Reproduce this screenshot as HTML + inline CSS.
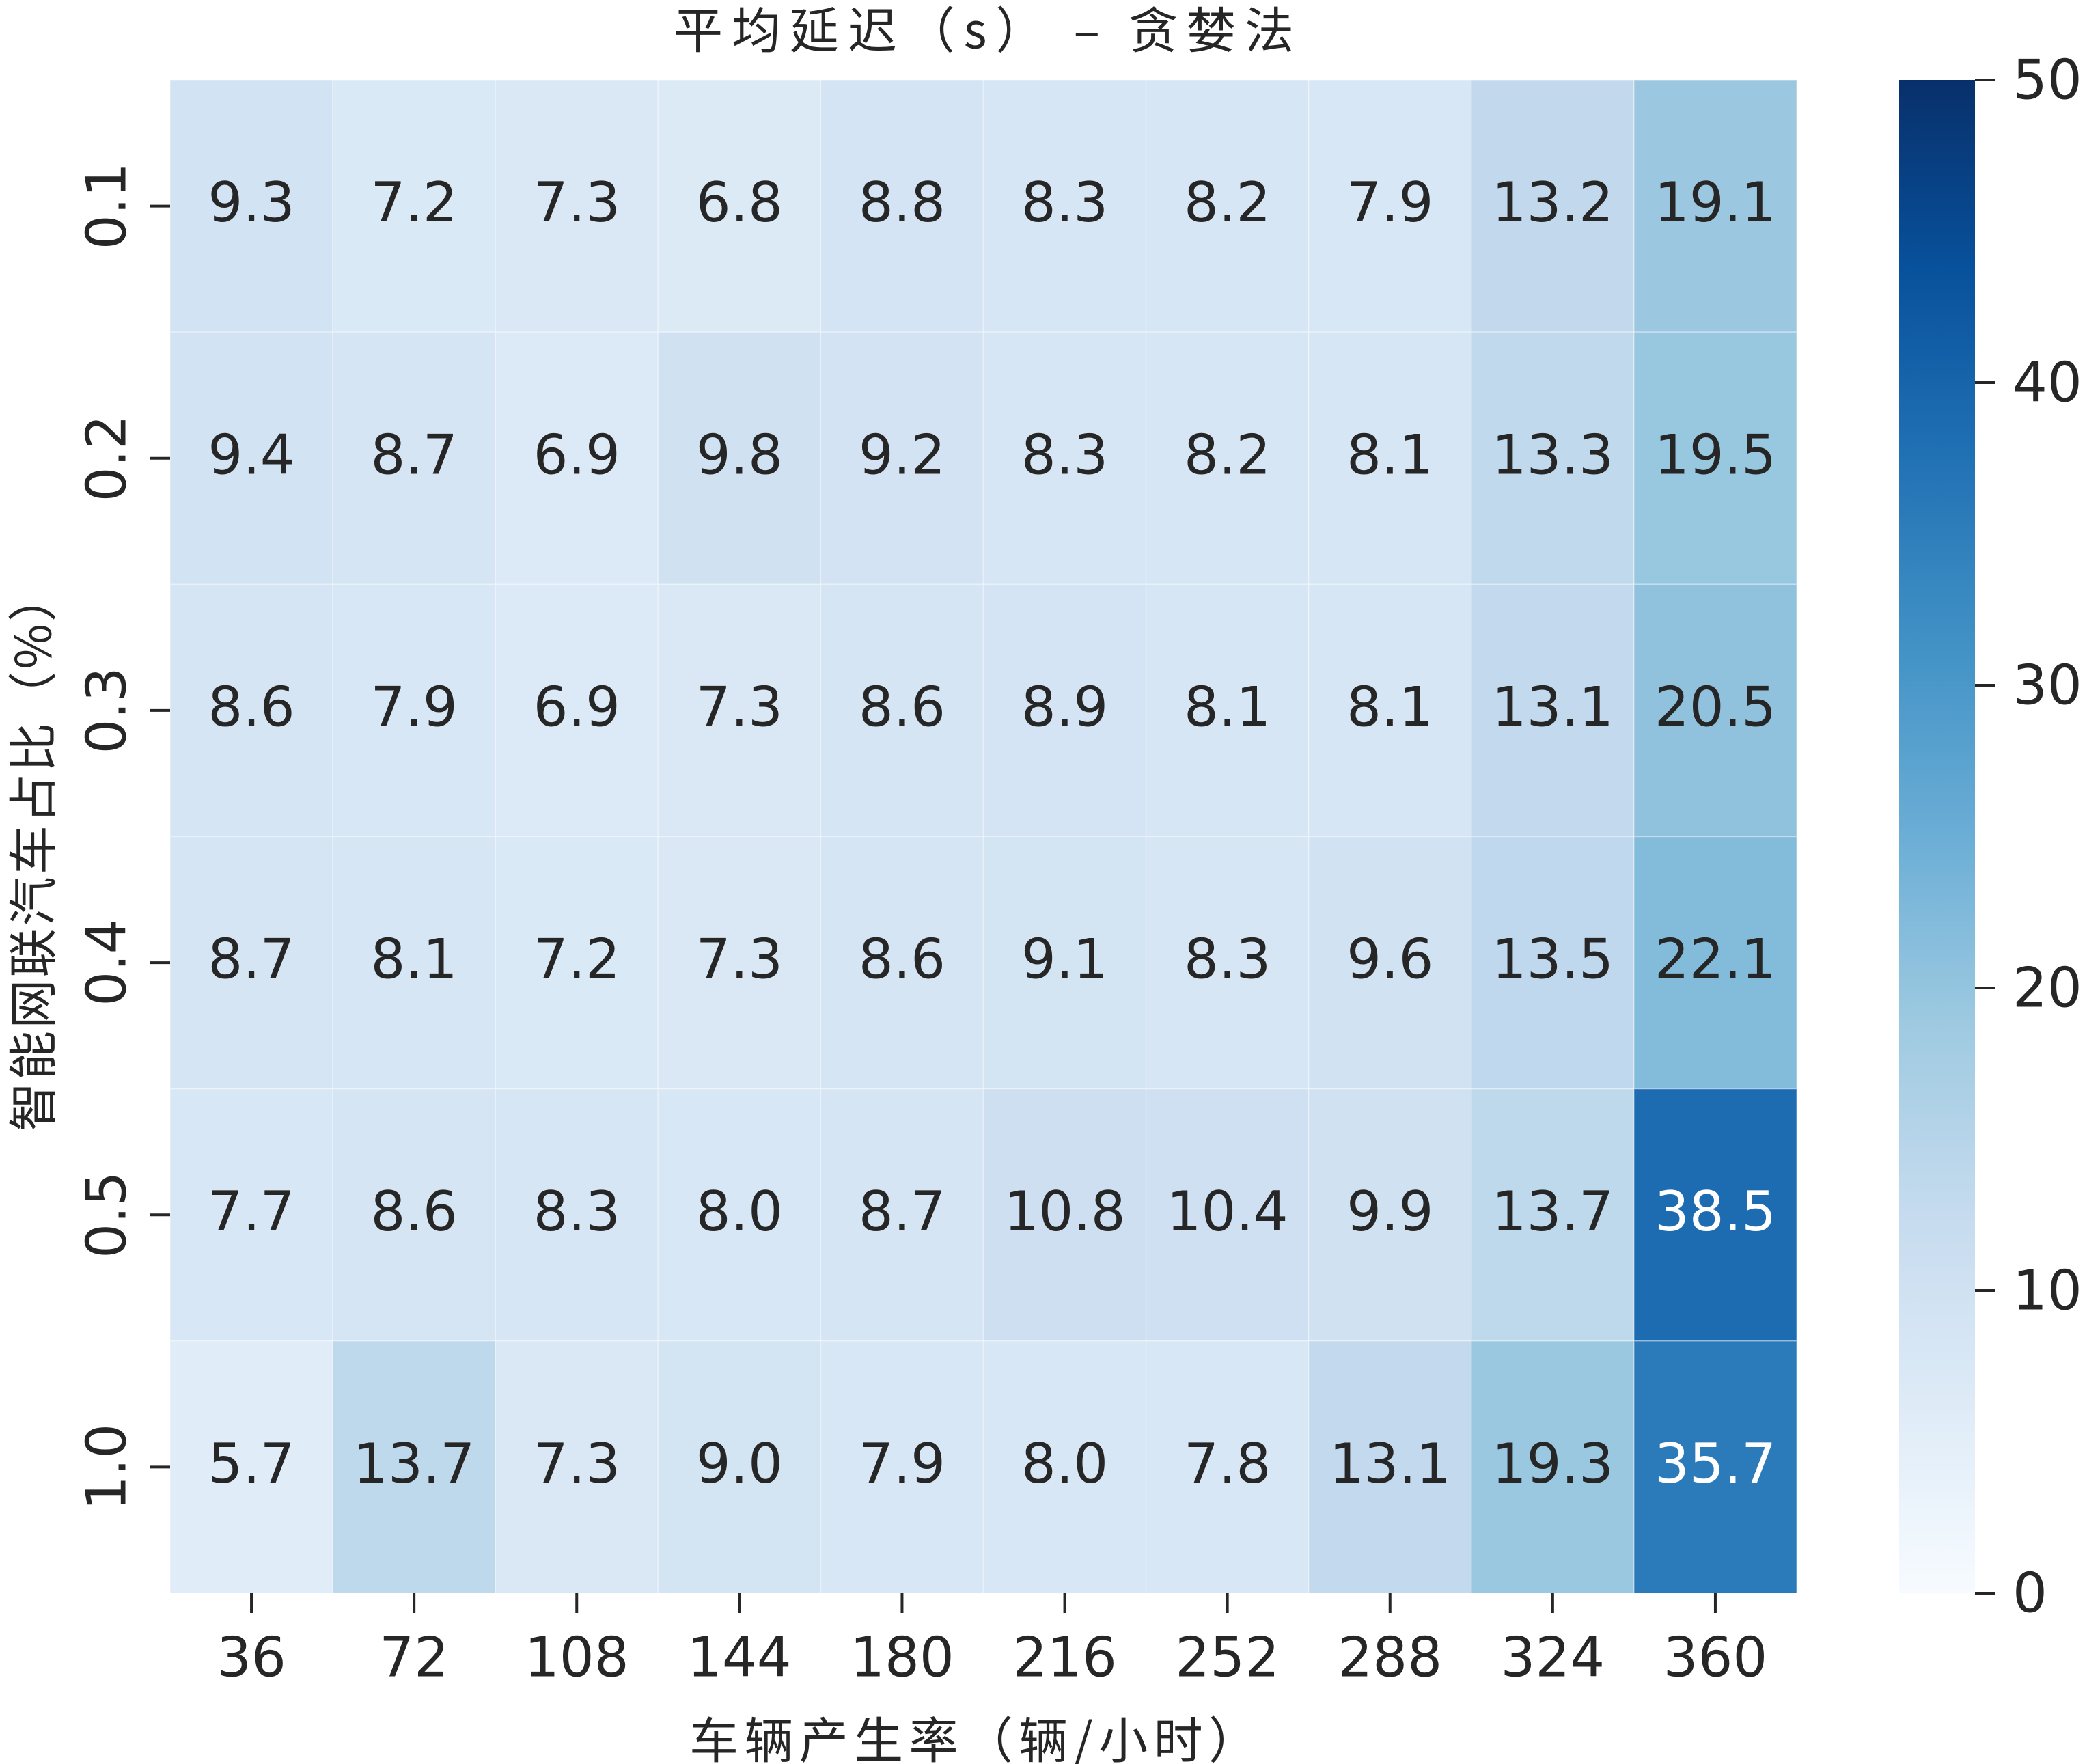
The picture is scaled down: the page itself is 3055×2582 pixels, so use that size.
<!DOCTYPE html>
<html><head><meta charset="utf-8"><style>
html,body{margin:0;padding:0;background:#fff;}
svg{display:block;font-family:"DejaVu Sans","Liberation Sans","Noto Sans CJK SC",sans-serif;}
</style></head><body>
<svg id="chart" width="3055" height="2582" viewBox="0 0 3055 2582" xmlns="http://www.w3.org/2000/svg">
<text x="1440" y="39" font-size="72" text-anchor="middle" dominant-baseline="central" fill="#262626" font-family="'Noto Sans CJK SC',sans-serif" textLength="908" lengthAdjust="spacing">平均延迟（s） – 贪婪法</text>
<text x="1425" y="2542" font-size="72" text-anchor="middle" dominant-baseline="central" fill="#262626" font-family="'Noto Sans CJK SC',sans-serif" textLength="832" lengthAdjust="spacing">车辆产生率（辆/小时）</text>
<text x="43" y="1247" font-size="72" text-anchor="middle" dominant-baseline="central" fill="#262626" font-family="'Noto Sans CJK SC',sans-serif" transform="rotate(-90 43 1247)" textLength="818" lengthAdjust="spacing">智能网联汽车占比（%）</text>
<g id="cells"></g>
<g id="xticks"></g>
<g id="yticks"></g>
<defs><linearGradient id="cbgrad" x1="0" y1="1" x2="0" y2="0">
<stop offset="0" stop-color="#f7fbff"/><stop offset="0.125" stop-color="#deebf7"/><stop offset="0.25" stop-color="#c6dbef"/><stop offset="0.375" stop-color="#9ecae1"/><stop offset="0.5" stop-color="#6baed6"/><stop offset="0.625" stop-color="#4292c6"/><stop offset="0.75" stop-color="#2171b5"/><stop offset="0.875" stop-color="#08519c"/><stop offset="1" stop-color="#08306b"/>
</linearGradient></defs>
<rect x="2780" y="117" width="111" height="2215" fill="url(#cbgrad)"/>
<g id="cbticks"></g>
</svg>
<script>
const xCategories=["36","72","108","144","180","216","252","288","324","360"];
const yCategories=["0.1","0.2","0.3","0.4","0.5","1.0"];
const row01=[9.3,7.2,7.3,6.8,8.8,8.3,8.2,7.9,13.2,19.1];
const row02=[9.4,8.7,6.9,9.8,9.2,8.3,8.2,8.1,13.3,19.5];
const row03=[8.6,7.9,6.9,7.3,8.6,8.9,8.1,8.1,13.1,20.5];
const row04=[8.7,8.1,7.2,7.3,8.6,9.1,8.3,9.6,13.5,22.1];
const row05=[7.7,8.6,8.3,8.0,8.7,10.8,10.4,9.9,13.7,38.5];
const row10=[5.7,13.7,7.3,9.0,7.9,8.0,7.8,13.1,19.3,35.7];
const rows=[row01,row02,row03,row04,row05,row10];
const cbTicks=[0,10,20,30,40,50];
const vmin=0,vmax=50;
const NS="http://www.w3.org/2000/svg";
const X0=249,X1=2630,Y0=117,Y1=2332;
const cw=(X1-X0)/xCategories.length, ch=(Y1-Y0)/yCategories.length;
const xPos=i=>X0+i*cw, yPos=j=>Y0+j*ch;
const cbY=v=>Y1-(v-vmin)/(vmax-vmin)*(Y1-Y0);
const stops=["#f7fbff","#deebf7","#c6dbef","#9ecae1","#6baed6","#4292c6","#2171b5","#08519c","#08306b"].map(h=>[1,3,5].map(k=>parseInt(h.substr(k,2),16)));
function color(v){let t=Math.max(0,Math.min(1,(v-vmin)/(vmax-vmin)))*(stops.length-1);let i=Math.min(Math.floor(t),stops.length-2);let f=t-i;return stops[i].map((c,k)=>Math.round(c+(stops[i+1][k]-c)*f));}
function lum(c){const l=c.map(x=>{x/=255;return x<=0.03928?x/12.92:Math.pow((x+0.055)/1.055,2.4)});return 0.2126*l[0]+0.7152*l[1]+0.0722*l[2];}
function mk(tag,attrs,parent){const e=document.createElementNS(NS,tag);for(const k in attrs)e.setAttribute(k,attrs[k]);parent.appendChild(e);return e;}
const cells=document.getElementById('cells');
rows.forEach((r,j)=>r.forEach((v,i)=>{
  const c=color(v);
  const rect=mk('rect',{x:xPos(i),y:yPos(j),width:cw,height:ch,fill:`rgb(${c})`,stroke:'rgba(255,255,255,0.35)','stroke-width':1.5},cells);
  
  
  const t=mk('text',{x:xPos(i)+cw/2,y:yPos(j)+ch/2-5,'font-size':80,'text-anchor':'middle','dominant-baseline':'central',fill:lum(c)<0.408?'#ffffff':'#262626'},cells);
  t.textContent=v.toFixed(1);
  
  
}));
const xt=document.getElementById('xticks');
xCategories.forEach((lab,i)=>{
  const x=xPos(i)+cw/2;
  const l=mk('line',{x1:x,x2:x,y1:Y1,y2:Y1+29,stroke:'#262626','stroke-width':4},xt);
  
  
  const t=mk('text',{x:x,y:2426,'font-size':80,'text-anchor':'middle','dominant-baseline':'central',fill:'#262626'},xt);
  t.textContent=lab;
  
  
});
const yt=document.getElementById('yticks');
yCategories.forEach((lab,j)=>{
  const y=yPos(j)+ch/2;
  const l=mk('line',{x1:X0-29,x2:X0,y1:y,y2:y,stroke:'#262626','stroke-width':4},yt);
  
  
  const t=mk('text',{x:156,y:y,'font-size':80,'text-anchor':'middle','dominant-baseline':'central',fill:'#262626',transform:`rotate(-90 156 ${y})`},yt);
  t.textContent=lab;
  
  
});
const cb=document.getElementById('cbticks');
cbTicks.forEach(v=>{
  const y=cbY(v);
  const l=mk('line',{x1:2891,x2:2920,y1:y,y2:y,stroke:'#262626','stroke-width':4},cb);
  
  
  const t=mk('text',{x:2946,y:y,'font-size':80,'text-anchor':'start','dominant-baseline':'central',fill:'#262626'},cb);
  t.textContent=v;
  
  
});
</script>
</body></html>
